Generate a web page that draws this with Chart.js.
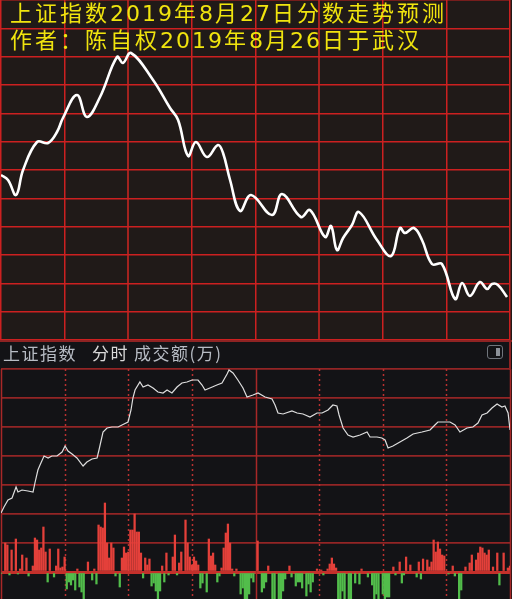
<!DOCTYPE html>
<html>
<head>
<meta charset="utf-8">
<script src="https://cdn.jsdelivr.net/npm/chart.js@4.4.1/dist/chart.umd.min.js"></script>
<style>
  html, body { margin:0; padding:0; background:#131316; }
  #wrap { position:relative; width:512px; height:599px; overflow:hidden; }
  #topPanel { position:absolute; left:0; top:0; width:512px; height:341px; background:#201a18; }
  #title { position:absolute; left:10px; top:-1px; color:#f0e40e; font:22px/25px "Noto Sans CJK SC", sans-serif;
           letter-spacing:3px; white-space:nowrap; }
  #title .n { font-family:"DejaVu Sans", sans-serif; letter-spacing:2px; }
  #botPanel { position:absolute; left:0; top:340px; width:512px; height:259px; background:#131316; }
  .hdr { position:absolute; top:0; font:17px/26px "Noto Sans CJK SC", sans-serif; letter-spacing:1.5px; white-space:nowrap; color:#b7bcc4; }
  .line { position:absolute; background:#8e2323; }
  #icon { position:absolute; left:487px; top:5px; width:14px; height:12px; border:1.5px solid #70757c; border-radius:3px; }
  #icon div { position:absolute; left:8px; top:2px; width:4px; height:8px; background:#8c9198; }
  canvas { position:absolute; left:0; top:0; }
</style>
</head>
<body>
<div id="wrap">
  <div id="topPanel">
    <canvas id="topChart" width="512" height="341"></canvas>
    <div id="title">
      <div>上证指数<span class="n">2019</span>年<span class="n">8</span>月<span class="n">27</span>日分数走势预测</div>
      <div>作者：陈自权<span class="n">2019</span>年<span class="n">8</span>月<span class="n">26</span>日于武汉</div>
    </div>
  </div>
  <div id="botPanel">
    <canvas id="botChart" width="512" height="259"></canvas>
    <div class="line" style="left:0;top:0;width:512px;height:1.5px"></div>
    <div class="line" style="left:509px;top:0;width:1.5px;height:30px"></div>
    <span class="hdr" style="left:3px">上证指数</span>
    <span class="hdr" style="left:92px;color:#dadada">分时</span>
    <span class="hdr" style="left:134px">成交额(万)</span>
    <div id="icon"><div></div></div>
  </div>
</div>

<script>
// forecast curve (top): trading minute -> score
const fcMinute = [0, 3.3, 7.1, 10.4, 17.0, 22.2, 26.4, 29.2, 35.8, 40.5,
  46.7, 54.7, 57.5, 61.3, 71.7, 79.7, 83.5, 88.2, 91.9, 97.1,
  102.3, 104.7, 108.0, 112.7, 117.9, 127.8, 132.5, 141.4, 145.7, 152.8,
  155.6, 158.4, 161.3, 165.5, 168.8, 177.3, 183.9, 188.1, 190.5, 194.7,
  198.5, 203.2, 207.9, 214.1, 217.4, 221.1, 225.8, 229.2, 231.5, 234.3, 238.6];
const fcScore = [165, 160, 145, 170, 198, 197, 208, 222, 245, 223,
  243, 283, 277, 287, 260, 232, 220, 184, 198, 183,
  195, 187, 160, 129, 145, 125, 146, 123, 130, 103,
  114, 90, 102, 115, 128, 100, 84, 112, 107, 112,
  100, 76, 76, 41, 57, 44, 58, 51, 56, 55, 43];

// intraday index (bottom): minute -> level
const idxMinute = [0, 1.4, 3.3, 5.2, 7.1, 8.0, 9.9, 12.7, 15.1, 16.0,
  17.4, 18.4, 20.3, 22.2, 24.0, 26.4, 28.8, 30.2, 31.6, 33.5,
  35.8, 38.7, 40.5, 42.9, 45.3, 46.2, 48.1, 50.0, 52.3, 55.2,
  58.0, 59.9, 61.3, 62.2, 63.2, 65.5, 67.0, 69.3, 71.7, 74.0,
  76.4, 78.3, 80.6, 83.0, 85.3, 87.7, 90.1, 92.9, 94.8, 96.2,
  98.5, 101.8, 104.2, 106.6, 107.5, 109.4, 111.7, 114.1, 116.0, 118.8,
  121.2, 124.5, 127.8, 129.2, 130.6, 133.0, 137.2, 139.6, 142.4, 145.7,
  149.0, 151.4, 154.2, 156.5, 158.4, 159.4, 161.3, 163.6, 166.0, 169.3,
  172.6, 174.0, 177.3, 179.6, 181.1, 182.5, 184.8, 188.1, 191.4, 194.3,
  198.5, 202.3, 204.6, 206.0, 211.7, 214.1, 216.4, 219.7, 222.5, 224.9,
  226.8, 229.2, 231.5, 233.9, 236.2, 237.6, 239.1, 240.0];
const idxLevel = [86, 92, 99, 101, 112, 107, 109, 108, 107, 116,
  129, 134, 143, 141, 143, 143, 147, 153, 148, 145,
  141, 133, 137, 140, 141, 149, 167, 171, 172, 172,
  175, 177, 189, 201, 209, 217, 212, 214, 211, 207,
  206, 209, 206, 212, 216, 217, 219, 219, 214, 209,
  211, 214, 216, 225, 229, 226, 219, 211, 202, 204,
  206, 202, 200, 194, 186, 185, 188, 186, 185, 182,
  186, 186, 189, 194, 193, 184, 171, 164, 162, 164,
  167, 162, 162, 161, 159, 151, 153, 157, 161, 165,
  167, 169, 174, 177, 177, 174, 167, 171, 172, 176,
  184, 186, 191, 195, 192, 193, 186, 169];

// turnover per minute: [minute, amount], up = red, down = green
const upVol = [[2,29],[3,27],[5,22],[7,33],[9,3],[10,17],[12,14],[15,6],[16,34],[17,32],[18,22],[19,24],[20,45],[21,20],
  [23,23],[26,6],[27,23],[28,4],[29,5],[30,15],[36,3],[41,10],[44,3],[46,47],[47,45],[48,44],[49,69],[50,29],[51,14],
  [52,29],[53,24],[57,14],[58,25],[59,19],[60,20],[61,42],[62,42],[63,58],[64,40],[65,40],[66,19],[68,14],[69,7],[70,13],
  [76,6],[78,19],[81,15],[82,37],[84,9],[85,20],[87,52],[88,29],[89,15],[90,7],[91,15],[92,11],[93,7],[98,33],[99,16],
  [100,19],[101,7],[104,4],[105,24],[106,39],[107,48],[108,29],[109,3],[111,3],[121,31],[126,6],[136,6],[149,3],[151,2],
  [154,3],[155,8],[156,14],[157,8],[158,4],[170,3],[185,5],[188,10],[191,15],[193,7],[197,10],[199,13],[201,12],[202,5],
  [203,10],[204,32],[205,20],[206,30],[207,23],[208,17],[209,16],[213,6],[219,5],[221,9],[222,17],[224,12],[225,19],
  [226,25],[227,24],[228,19],[229,17],[230,22],[232,5],[234,19],[237,19],[239,4],[240,6]];
const downVol = [[0,-1],[4,-3],[8,-2],[13,-4],[22,-10],[25,-5],[31,-17],[32,-10],[33,-13],[34,-8],[35,-18],[37,-15],
  [38,-20],[39,-27],[43,-8],[45,-12],[54,-4],[56,-15],[67,-6],[71,-14],[72,-11],[73,-19],[74,-27],[75,-19],[77,-10],
  [79,-3],[83,-3],[94,-16],[95,-11],[97,-20],[102,-10],[103,-4],[110,-4],[113,-22],[114,-16],[115,-27],[116,-27],
  [117,-22],[118,-6],[119,-10],[123,-20],[124,-16],[125,-10],[128,-27],[129,-27],[131,-27],[132,-27],[133,-19],[134,-7],
  [137,-5],[139,-14],[140,-10],[141,-10],[142,-16],[144,-24],[145,-12],[146,-20],[147,-10],[152,-3],[159,-27],[160,-27],
  [161,-19],[162,-27],[164,-27],[165,-27],[167,-11],[169,-12],[173,-5],[175,-13],[176,-27],[177,-22],[178,-27],[180,-22],
  [181,-27],[182,-25],[183,-25],[186,-3],[189,-11],[190,-3],[196,-5],[198,-7],[211,-2],[214,-4],[216,-27],[217,-18],[235,-13]];

const hidden = { display:false };

/* top: forecast chart */
new Chart(document.getElementById("topChart"), {
  type: "line",
  data: { datasets: [{
    data: fcMinute.map((m, i) => ({ x:m, y:fcScore[i] })),
    borderColor: "#ffffff", borderWidth: 2.6, pointRadius: 0, tension: 0.4, fill: false
  }]},
  options: {
    responsive: false, animation: false, events: [],
    layout: { padding: { left:1, right:2, top:0, bottom:1 } },
    plugins: { legend: hidden, tooltip: { enabled:false } },
    scales: {
      x: { type:"linear", min:0, max:240,
           ticks: { display:false, stepSize:30 },
           grid: { drawTicks:false,
                   color: c => (c.tick.value === 60 || c.tick.value === 150) ? "#a3231f" : "#cc2020",
                   lineWidth: c => (c.tick.value === 60 || c.tick.value === 150) ? 2 : 1.5 },
           border: hidden },
      y: { min:0, max:340,
           afterBuildTicks: a => { a.ticks = Array.from({ length:13 }, (_, i) => ({ value: i * 340 / 12 })); },
           ticks: { display:false },
           grid: { drawTicks:false, color:"#cc2020", lineWidth:1.5 },
           border: hidden }
    }
  }
});

// vertical lines of the intraday panel: solid at open/noon/close, dotted every half hour
const sessionLines = {
  id: "sessionLines",
  beforeDatasetsDraw(chart) {
    const { ctx, chartArea, scales } = chart;
    ctx.save();
    for (let m = 0; m <= 240; m += 30) {
      const x = Math.round(scales.x.getPixelForValue(m)) + 0.5;
      ctx.beginPath();
      if (m % 120 === 0) { ctx.setLineDash([]); ctx.strokeStyle = "#a82828"; ctx.lineWidth = 1.5; }
      else { ctx.setLineDash([2, 3]); ctx.strokeStyle = "#b83030"; ctx.lineWidth = 1.5; }
      ctx.moveTo(x, chartArea.top);
      ctx.lineTo(x, chartArea.bottom);
      ctx.stroke();
    }
    ctx.restore();
  }
};

/* bottom: intraday index + turnover */
new Chart(document.getElementById("botChart"), {
  type: "bar",
  data: { datasets: [
    { type:"line", yAxisID:"yp", order:0,
      data: idxMinute.map((m, i) => ({ x:m, y:idxLevel[i] })),
      borderColor:"#dedede", borderWidth:1.2, pointRadius:0, tension:0 },
    { yAxisID:"yv", order:1, grouped:false, barThickness:1.6,
      data: upVol.map(p => ({ x:p[0], y:p[1] })), backgroundColor:"#e4403a" },
    { yAxisID:"yv", order:1, grouped:false, barThickness:1.6,
      data: downVol.map(p => ({ x:p[0], y:p[1] })), backgroundColor:"#52bd4b" }
  ]},
  options: {
    responsive: false, animation: false, events: [],
    layout: { padding: { left:1, right:2, top:29, bottom:0 } },
    plugins: { legend: hidden, tooltip: { enabled:false } },
    scales: {
      x: { type:"linear", min:0, max:240, offset:false, display:false,
           ticks: { display:false }, grid: { display:false, offset:false, drawTicks:false }, border: hidden },
      yv: { position:"left", min:-27, max:203,
            afterBuildTicks: a => { a.ticks = Array.from({ length:8 }, (_, i) => ({ value: i * 29 })); },
            ticks: { display:false },
            grid: { drawTicks:false,
                    color: c => c.tick.value === 0 ? "#c4302b" : "#932525",
                    lineWidth: c => c.tick.value === 0 ? 3 : 1.8 },
            border: hidden },
      yp: { min:0, max:230, display:false }
    }
  },
  plugins: [sessionLines]
});
</script>
</body>
</html>
